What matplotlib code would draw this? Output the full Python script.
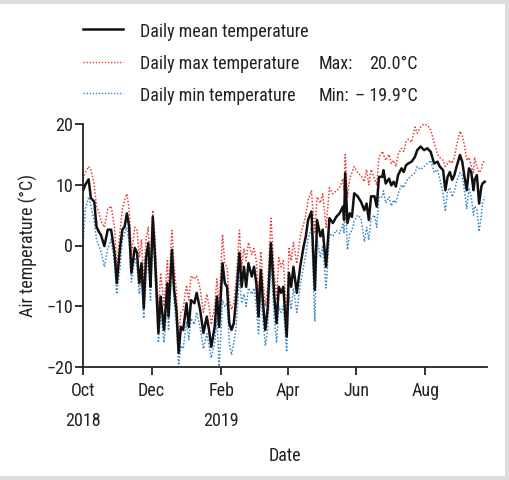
import numpy as np
import matplotlib
matplotlib.use("Agg")
import matplotlib.pyplot as plt
import matplotlib.font_manager as fm
from matplotlib.lines import Line2D
from matplotlib.patches import Rectangle

start_date = '2018-10-01'
day_offsets = [0, 2, 5, 7, 10, 12, 14, 16, 19, 22, 25, 28, 30, 33, 35, 37, 39, 41, 43, 46,
               48, 50, 52, 54, 56, 58, 59, 60, 62, 64, 67, 69, 72, 75, 76, 79, 81, 83, 85, 87,
               89, 92, 94, 96, 99, 101, 104, 107, 110, 112, 114, 117, 119, 121, 124, 126, 128, 130, 132, 134,
               136, 139, 141, 143, 145, 147, 150, 152, 154, 156, 158, 160, 162, 164, 167, 170, 172, 174, 176, 178,
               181, 183, 185, 187, 190, 193, 196, 198, 200, 203, 206, 208, 211, 213, 216, 219, 222, 225, 228, 231,
               232, 233, 235, 237, 239, 241, 244, 247, 250, 252, 254, 256, 259, 261, 263, 266, 267, 269, 272, 274,
               276, 278, 280, 283, 285, 287, 289, 292, 295, 297, 300, 303, 306, 309, 312, 315, 317, 320, 322, 324,
               326, 328, 330, 332, 335, 337, 339, 341, 343, 345, 347, 348, 350, 352, 354, 355, 357]
mean_temp = [9.0, 10.0, 10.9, 7.8, 7.2, 3.1, 2.3, 1.7, -0.1, 2.6, 2.6, -1.2, -6.2, -0.2, 2.6, 3.1, 5.3, 3.1, -4.5, -0.4,
             -1.2, -6.2, -2.9, -10.3, -2.0, 0.4, -3.5, -6.8, 4.7, -2.0, -14.4, -8.4, -13.9, -6.2, -11.7, -0.7, -7.3, -10.6, -17.7, -13.4,
             -13.9, -9.5, -13.4, -9.0, -9.5, -7.8, -10.5, -14.4, -11.7, -13.9, -16.7, -13.4, -8.4, -13.4, -2.9, -6.2, -6.8, -12.8, -13.9, -12.8,
             -9.0, -1.2, -6.8, -3.5, -6.8, -2.9, -5.1, -3.5, -6.2, -11.7, -4.0, -9.5, -13.9, -10.6, 0.4, -8.4, -12.8, -6.8, -7.8, -6.8,
             -15.0, -4.5, -6.8, -3.5, -7.8, -3.5, -0.2, 1.5, 4.2, 5.6, -7.3, 4.2, 1.5, 2.6, -3.5, 4.5, 3.7, 4.7, 5.3, 6.4,
             4.2, 11.9, 3.7, 5.3, 4.7, 8.6, 8.1, 7.2, 5.8, 6.9, 4.2, 8.1, 8.1, 6.4, 11.3, 11.3, 12.4, 10.2, 11.0, 9.9,
             10.5, 9.7, 11.6, 12.7, 12.1, 13.2, 13.5, 13.8, 14.6, 15.7, 16.3, 15.7, 16.0, 15.4, 13.5, 13.8, 13.0, 12.4, 9.1, 11.3,
             12.1, 10.8, 11.6, 13.0, 14.9, 13.8, 11.3, 9.1, 12.7, 12.1, 9.1, 10.8, 11.6, 6.9, 9.7, 10.2, 10.5]
max_temp = [11.0, 12.0, 13.0, 12.5, 10.0, 6.5, 5.5, 4.0, 3.0, 6.0, 6.5, 3.0, -3.5, 2.5, 6.0, 7.5, 8.5, 6.0, -1.5, 3.0,
            2.5, -2.0, 1.0, -6.0, 1.0, 3.0, -1.0, -3.5, 5.8, 1.5, -11.0, -4.5, -10.0, -2.5, -8.0, 2.5, -3.5, -7.5, -15.0, -11.0,
            -10.5, -6.5, -9.0, -5.0, -5.5, -5.0, -7.0, -11.0, -8.0, -10.0, -13.0, -10.0, -5.5, -10.0, 1.8, -3.0, -3.5, -9.0, -10.5, -9.5,
            -6.0, 2.5, -3.5, -0.5, -2.5, 0.5, -1.5, -0.5, -2.5, -8.0, -1.0, -6.0, -10.0, -7.0, 4.5, -4.5, -9.0, -2.0, -3.5, -2.5,
            -11.5, -0.5, -2.5, 0.5, -3.0, 1.5, 3.5, 5.0, 7.5, 9.0, 2.0, 8.0, 7.0, 8.5, 3.0, 9.5, 8.5, 9.0, 9.5, 11.0,
            9.0, 15.0, 8.0, 11.0, 12.0, 13.0, 12.0, 11.5, 10.5, 12.5, 10.0, 12.5, 11.0, 10.0, 14.5, 15.5, 15.0, 14.0, 15.0, 13.5,
            14.0, 13.0, 15.0, 16.0, 15.5, 17.0, 17.5, 17.0, 19.5, 18.5, 19.5, 20.0, 19.8, 19.0, 17.0, 15.0, 14.5, 14.0, 13.0, 13.5,
            14.0, 13.5, 14.5, 16.5, 18.8, 18.0, 16.5, 14.0, 14.5, 13.0, 12.0, 14.5, 13.0, 12.0, 12.5, 13.5, 14.0]
min_temp = [0.0, 6.0, 8.0, 6.5, 4.0, 1.0, 0.0, -1.0, -3.5, -0.5, 1.0, -3.0, -8.0, -3.5, 1.0, 2.0, 3.0, 0.5, -6.0, -2.0,
            -3.5, -8.0, -5.0, -12.0, -5.0, -1.5, -6.0, -9.0, 2.0, -4.5, -16.0, -11.0, -16.0, -9.0, -14.0, -3.0, -9.5, -13.0, -19.7, -16.5,
            -17.0, -12.5, -15.5, -12.0, -13.0, -11.0, -13.5, -17.0, -14.5, -16.5, -18.5, -16.0, -12.0, -19.9, -9.0, -10.0, -9.5, -16.0, -18.0, -16.0,
            -13.5, -5.0, -9.5, -8.0, -10.0, -7.0, -8.0, -7.0, -10.0, -14.5, -8.0, -12.5, -16.5, -14.0, -3.0, -12.0, -16.0, -10.0, -11.0, -10.0,
            -17.5, -8.0, -10.5, -7.0, -11.0, -6.5, -3.5, -1.5, 1.0, 3.0, -12.5, 1.0, -2.0, 0.0, -7.0, 2.0, 1.5, 2.5, 2.0, 3.5,
            2.0, 8.0, -0.7, 2.0, 2.5, 4.0, 5.0, 4.5, 0.6, 3.0, 1.0, 4.5, 5.0, 3.0, 8.0, 8.0, 9.0, 7.0, 8.0, 6.5,
            7.5, 7.0, 8.5, 10.0, 9.5, 10.5, 11.0, 11.5, 12.0, 13.0, 12.5, 13.0, 13.5, 14.0, 12.0, 12.5, 11.0, 8.5, 5.6, 9.0,
            9.5, 8.0, 9.0, 10.5, 12.0, 11.5, 9.0, 6.0, 9.5, 8.0, 5.0, 6.5, 6.0, 2.3, 5.0, 7.0, 8.0]

x_ticks = ['2018-10-01', '2018-12-01', '2019-02-01', '2019-04-01', '2019-06-01', '2019-08-01']
x_tick_labels = ['Oct\n2018', 'Dec', 'Feb\n2019', 'Apr', 'Jun', 'Aug']
y_ticks = [-20, -10, 0, 10, 20]
y_tick_labels = ['\u221220', '\u221210', '0', '10', '20']
legend_labels = ['Daily mean temperature', 'Daily max temperature', 'Daily min temperature']
max_label = '20.0\u00b0C'
min_label = '\u2013 19.9\u00b0C'

# pick a condensed font if one is installed
font_path = None
prefs = ['Liberation Sans Narrow', 'Roboto Condensed', 'Open Sans Condensed', 'DejaVu Sans Condensed',
         'Noto Sans Condensed', 'Arial Narrow']
cands = []
for f in fm.fontManager.ttflist:
    nm = f.name
    stretch = str(f.stretch).lower()
    fn = f.fname.lower()
    is_cond = ('narrow' in nm.lower() or 'condensed' in nm.lower() or 'condensed' in stretch
               or 'narrow' in fn or 'condensed' in fn)
    if not is_cond:
        continue
    if 'semicondensed' in fn or 'semi' in stretch:
        continue
    if f.weight not in (400, 'normal', 'regular') or f.style != 'normal':
        continue
    if 'extra' in fn or 'ultra' in fn or 'light' in fn or 'bold' in fn:
        continue
    cands.append(f)
for p in prefs:
    for f in cands:
        if p.lower().replace(' ', '') in (f.name + ' ' + ('condensed' if 'condensed' in f.fname.lower() else '')).lower().replace(' ', '') \
                or p.lower().replace(' ', '') in f.fname.lower().replace(' ', '').replace('-', '').replace('_', ''):
            font_path = f.fname
            break
    if font_path:
        break
if font_path is None and cands:
    font_path = cands[0].fname

def FP(size):
    if font_path:
        return fm.FontProperties(fname=font_path, size=size)
    return fm.FontProperties(family='Liberation Sans', size=size)

FS = 13
TXT = '#222222'
W, H = 510, 480
fig = plt.figure(figsize=(W / 100, H / 100), dpi=100)
fig.patch.set_facecolor('#dcdcdc')
bg = Rectangle((0, 4 / H), 505 / W, 472 / H, transform=fig.transFigure,
               facecolor='white', edgecolor='none', zorder=-10)
fig.patches.append(bg)

ax = fig.add_axes([83 / W, 1 - 367 / H, (487 - 83) / W, (367 - 124) / H])
ax.set_zorder(5)
ax.set_facecolor('none')

dates = np.datetime64(start_date) + np.array(day_offsets).astype('timedelta64[D]')
red = '#e5403a'
blue = '#3b87c9'
ax.plot(dates, max_temp, color=red, linestyle=(0, (1, 1.2)), linewidth=1.1)
ax.plot(dates, min_temp, color=blue, linestyle=(0, (1, 1.2)), linewidth=1.1)
ax.plot(dates, mean_temp, color='#111111', linewidth=1.8)

ax.set_ylim(-20, 20)
ax.set_xlim(np.datetime64('2018-10-01'), np.datetime64('2019-09-25'))
ax.set_yticks(y_ticks)
ax.set_yticklabels(y_tick_labels, fontproperties=FP(FS))
ax.set_xticks([np.datetime64(t) for t in x_ticks])
ax.set_xticklabels(x_tick_labels, fontproperties=FP(FS), linespacing=1.85, va='top')
for s in ['top', 'right']:
    ax.spines[s].set_visible(False)
for s in ['left', 'bottom']:
    ax.spines[s].set_linewidth(1.3)
    ax.spines[s].set_color(TXT)
ax.tick_params(axis='both', length=6, width=1.3, color=TXT, labelcolor=TXT)
ax.tick_params(axis='x', pad=5)
ax.tick_params(axis='y', pad=1)
ax.set_xlabel('Date', fontproperties=FP(FS), color=TXT, labelpad=12)
ax.set_ylabel('Air temperature (\u00b0C)', fontproperties=FP(FS), color=TXT, labelpad=6)

def fy(y):
    return 1 - y / H

fig.add_artist(Line2D([83 / W, 123 / W], [fy(29), fy(29)], color='#111111', linewidth=1.8))
fig.add_artist(Line2D([83 / W, 123 / W], [fy(62), fy(62)], color=red, linestyle=(0, (1, 1.2)), linewidth=1.0))
fig.add_artist(Line2D([83 / W, 123 / W], [fy(93), fy(93)], color=blue, linestyle=(0, (1, 1.2)), linewidth=1.0))
for lab, y in zip(legend_labels, [32, 64, 96]):
    fig.text(140 / W, fy(y), lab, fontproperties=FP(FS), color=TXT, va='center', ha='left')
fig.text(319 / W, fy(64), 'Max:', fontproperties=FP(FS), color=TXT, va='center', ha='left')
fig.text(319 / W, fy(96), 'Min:', fontproperties=FP(FS), color=TXT, va='center', ha='left')
fig.text(418 / W, fy(64), max_label, fontproperties=FP(FS), color=TXT, va='center', ha='right')
fig.text(418 / W, fy(96), min_label, fontproperties=FP(FS), color=TXT, va='center', ha='right')

fig.savefig('out.png', dpi=100, facecolor=fig.get_facecolor())
